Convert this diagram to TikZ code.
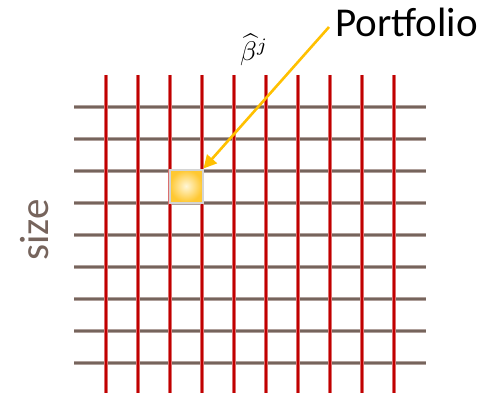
\documentclass[tikz,border=0pt]{standalone}
\usepackage{graphicx}
\usepackage{fontspec}
\setmainfont{Carlito}
\usetikzlibrary{arrows.meta}
\definecolor{gridred}{RGB}{192,0,0}
\definecolor{gridredlt}{RGB}{220,110,110}
\definecolor{gridbrown}{RGB}{118,100,92}
\definecolor{gridbrownlt}{RGB}{175,160,155}
\definecolor{arrowyellow}{RGB}{255,192,0}
\definecolor{boxedge}{RGB}{212,212,212}
\definecolor{boxin}{RGB}{255,246,215}
\definecolor{boxout}{RGB}{255,200,50}
\tikzset{
  hline/.style={gridbrownlt, line width=3.4pt, postaction={draw=gridbrown, line width=1.8pt}},
  vline/.style={gridredlt, line width=3.4pt, postaction={draw=gridred, line width=1.9pt}},
  labeltext/.style={inner sep=0pt, font=\fontsize{41}{45}\selectfont},
  pointer/.style={arrowyellow, line width=2.6pt, -{Triangle[length=13pt,width=13pt]}}
}
\begin{document}
\begin{tikzpicture}[x=1pt,y=-1pt]
\useasboundingbox (0,0) rectangle (492,393);
% horizontal lines
\foreach \yy in {107,139,171,203,235,267,299,331,363}
  \draw[hline] (74,\yy) -- (426,\yy);
% vertical lines
\foreach \xx in {106,138,170,202,234,266,298,330,362,394}
  \draw[vline] (\xx,75) -- (\xx,393);
% portfolio cell
\shade[inner color=boxin, outer color=boxout] (170,170) rectangle (202,202);
\node[draw=boxedge, line width=2pt, minimum width=33pt, minimum height=33pt, inner sep=0pt] (pf) at (186,186) {};
% labels
\node[labeltext, anchor=base west] (port) at (335,37) {Portfolio};
\node[inner sep=0pt, anchor=base west] (beta) at (240,61) {\scalebox{2.7}{$\widehat{\beta}^{j}$}};
\node[labeltext, text=gridbrown, rotate=90] (size) at (35,230) {size};
\coordinate (start) at (329,27);
\draw[pointer] (start) -- (pf.north east);
\end{tikzpicture}
\end{document}
